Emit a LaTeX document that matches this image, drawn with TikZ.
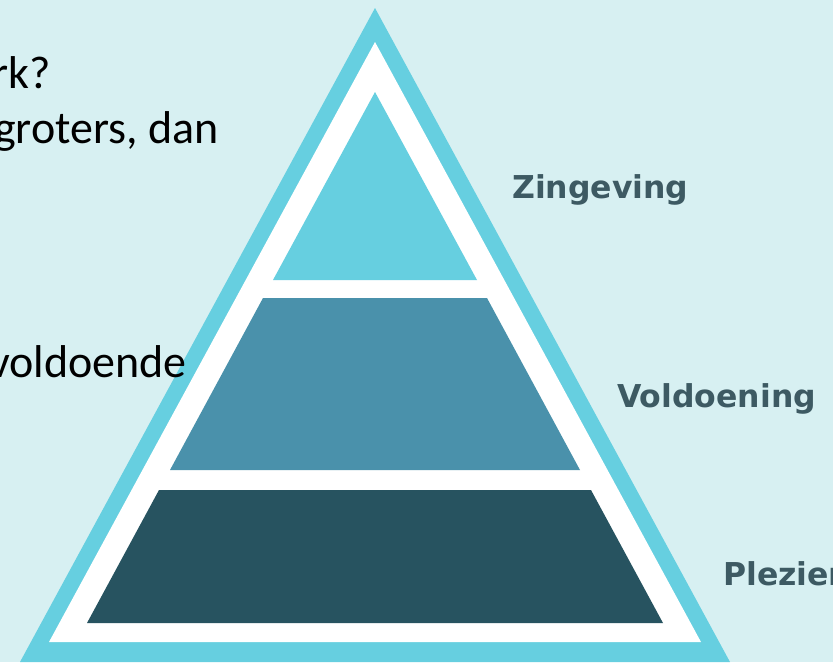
\documentclass[tikz,border=0pt]{standalone}
\usepackage{fontspec}
\setmainfont{Carlito}
\newfontfamily\lblfont{DejaVu Sans}
\definecolor{bg}{HTML}{D7F0F2}
\definecolor{rim}{HTML}{66CFE0}
\definecolor{topc}{HTML}{66CFE0}
\definecolor{midc}{HTML}{4A91AB}
\definecolor{botc}{HTML}{275360}
\definecolor{lbl}{HTML}{3D5A63}
\tikzset{
  bodytext/.style={anchor=base east, inner sep=0pt, font=\fontsize{46}{55}\selectfont, text=black},
  layerlabel/.style={anchor=base west, inner sep=0pt, font=\lblfont\bfseries\fontsize{31.5}{36}\selectfont, text=lbl}
}
\begin{document}
\begin{tikzpicture}[x=1pt,y=-1pt]
\useasboundingbox (0,0) rectangle (833,662);
\clip (0,0) rectangle (833,662);
\fill[bg] (0,0) rectangle (833,662);
% outer rim
\fill[rim] (375,8) -- (730,662) -- (20,662) -- cycle;
% white inner
\fill[white] (375,42) -- (701,642) -- (49,642) -- cycle;
% layers
\fill[topc] (375,92) -- (477,280) -- (273,280) -- cycle;
\fill[midc] (263,298) -- (487,298) -- (580,470) -- (170,470) -- cycle;
\fill[botc] (159,490) -- (591,490) -- (663,623) -- (87,623) -- cycle;
% labels
\node[layerlabel] (zin) at (512,198) {Zingeving};
\node[layerlabel] (vol) at (617,407) {Voldoening};
\node[layerlabel] (ple) at (723,585) {Plezier};
% body text
\node[bodytext] (t1) at (51,88) {rk?};
\node[bodytext] (t2) at (219,143) {groters, dan};
\node[bodytext] (t3) at (187,377) {voldoende};
\end{tikzpicture}
\end{document}
